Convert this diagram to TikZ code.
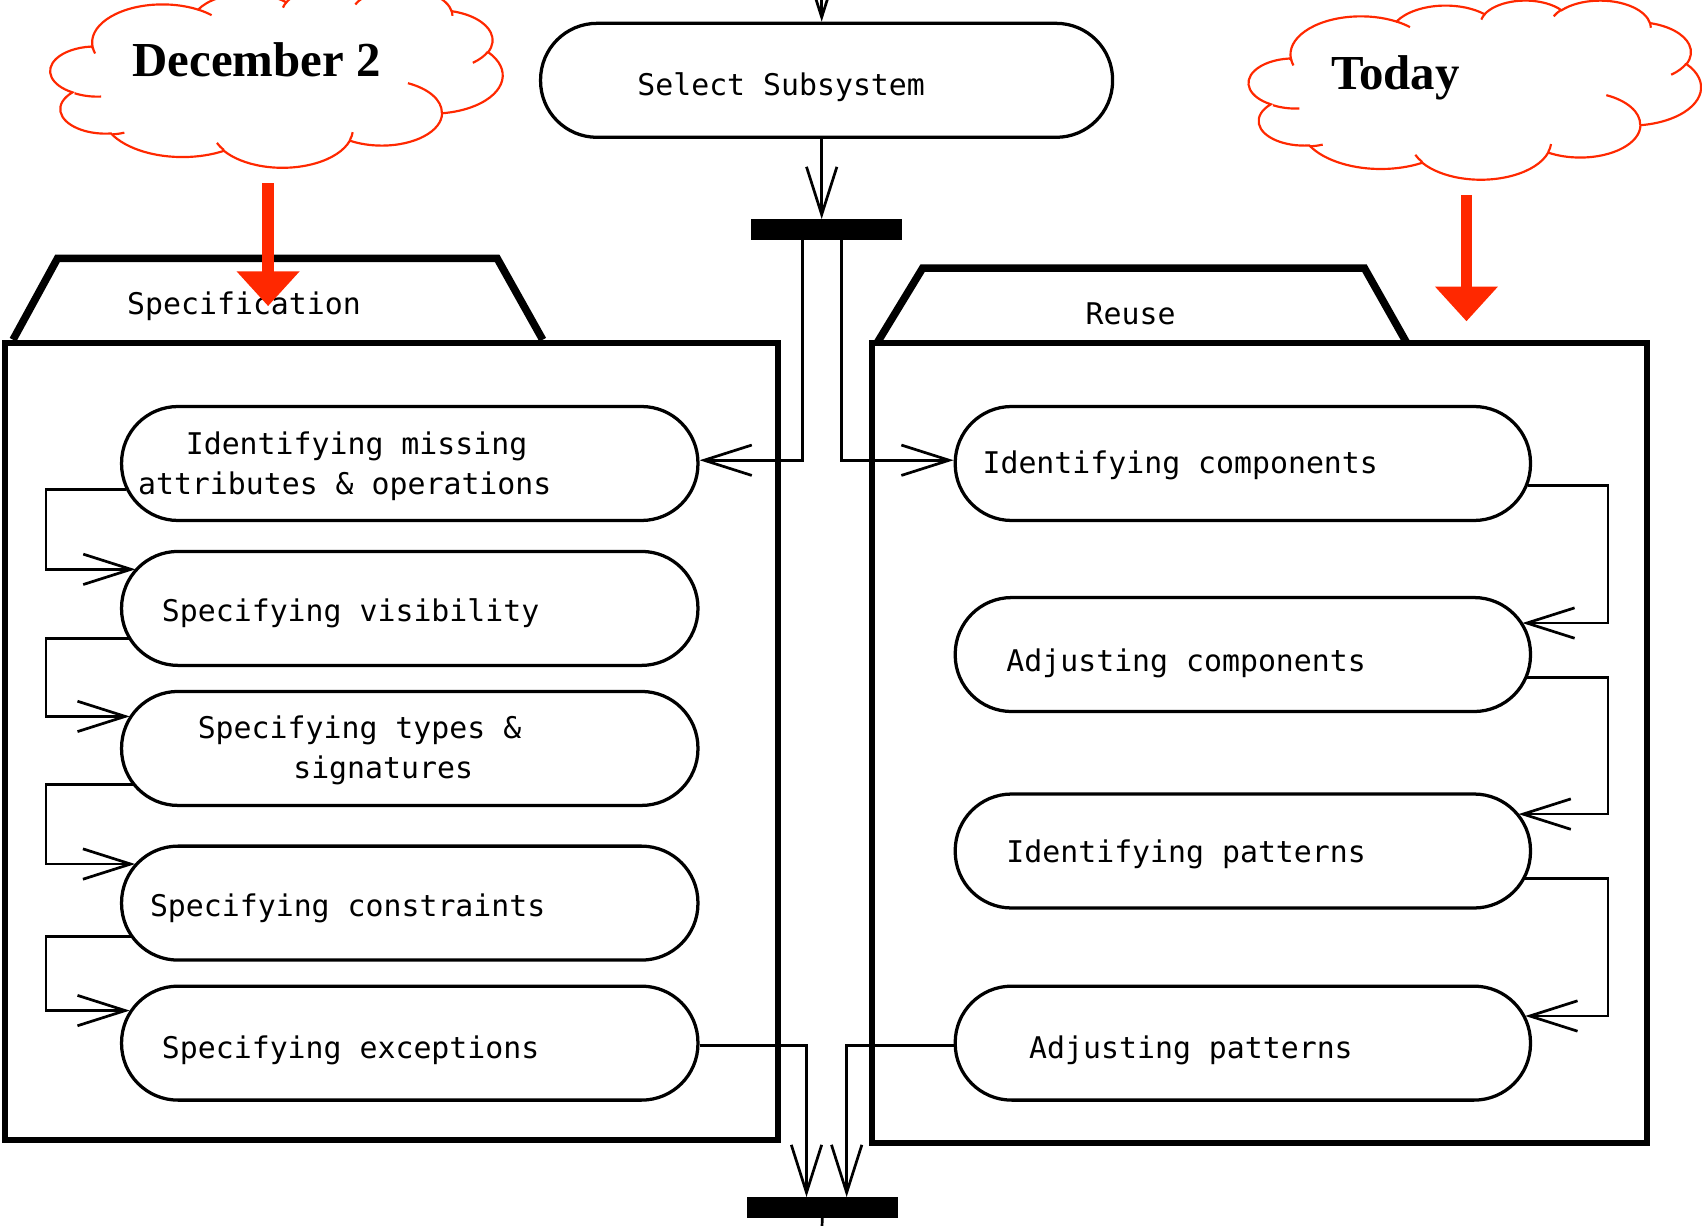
\documentclass[tikz,border=0pt]{standalone}
\usepackage{fontspec}
\setmainfont{Liberation Serif}
\setmonofont{DejaVu Sans Mono}
\usetikzlibrary{arrows.meta}
\definecolor{cloudred}{RGB}{255,40,0}
% elliptic arc given by radii, visual start angle and sweep (degrees)
\newcommand\puffarc[4]{arc[x radius=#1, y radius=#2,
  start angle={atan2(#1*sin(#3),#2*cos(#3))},
  delta angle={mod(atan2(#1*sin(#3+#4),#2*cos(#3+#4))-atan2(#1*sin(#3),#2*cos(#3))+720,360)}]}
% cloud outline in a 432 x 432 box, y pointing down
\newcommand\cloudoutline{%
  \draw[cloudline] (39.00,143.70)
    \puffarc{67.53}{91.90}{-190.4875}{123.7805}
    \puffarc{53.33}{72.67}{-144.1024}{89.9452}
    \puffarc{43.65}{59.45}{-145.8079}{99.7230}
    \puffarc{48.57}{65.95}{-130.9861}{117.2417}
    \puffarc{53.33}{72.73}{-78.7089}{109.0269}
    \puffarc{67.75}{92.20}{-46.2673}{130.2690}
    \puffarc{57.85}{78.67}{0.6250}{114.0333}
    \puffarc{67.52}{92.15}{22.4516}{115.1726}
    \puffarc{77.20}{105.43}{66.2426}{78.4419}
    \puffarc{43.60}{59.18}{-274.9421}{146.7352}
    \puffarc{43.45}{59.45}{-246.8285}{152.5195} -- cycle;
  \draw[cloudline]
    (46.93,261.77) \puffarc{43.45}{59.45}{86.7420}{26.4295}
    (69.28,348.99) \puffarc{43.60}{59.18}{73.6105}{11.4475}
    (164.78,390.90) \puffarc{67.52}{92.15}{137.6242}{14.0811}
    (288.27,347.51) \puffarc{67.52}{92.15}{6.4533}{15.9984}
    (341.29,229.54) \puffarc{57.85}{78.67}{-70.2924}{70.9174}
    (417.98,153.54) \puffarc{53.33}{72.73}{30.3180}{27.7515}
    (383.24,54.26) \puffarc{48.57}{65.95}{-13.7443}{14.8589}
    (290.78,39.52) \puffarc{48.57}{65.95}{-149.1815}{18.1954}
    (221.41,47.20) \puffarc{43.65}{59.45}{-163.4943}{17.6864}
    (140.00,51.92) \puffarc{67.53}{91.90}{-66.7070}{12.3194}
    (41.27,157.89) \puffarc{67.53}{91.90}{157.6544}{11.8582};}
\begin{document}
\begin{tikzpicture}[x=1pt,y=-1pt,
  act/.style={draw, line width=3pt, rounded corners=52pt, minimum width=531pt,
              minimum height=105pt, inner sep=0pt},
  lbl/.style={font=\ttfamily\fontsize{27.5}{37}\selectfont, inner sep=0pt,
              anchor=west, align=left},
  syncbar/.style={fill=black, minimum width=139pt, minimum height=19pt, inner sep=0pt},
  conn/.style={line width=2.5pt,
               -{Straight Barb[length=44pt,width=28pt,line width=2.5pt]}},
  plain/.style={line width=2.5pt},
  lane/.style={line width=5.5pt},
  tab/.style={line width=7pt},
  cloudline/.style={draw=cloudred, line width=2pt},
  notetext/.style={font=\bfseries\fontsize{45}{50}\selectfont, inner sep=0pt},
  redarrow/.style={draw=cloudred, line width=11pt,
                   -{Triangle[length=32pt,width=56pt]}, fill=cloudred}
]
\useasboundingbox (0,0) rectangle (1568,1129.4);

% swimlanes
\draw[lane] (5,316) rectangle (717,1050);
\draw[tab] (12,313) -- (53,238) -- (458,238) -- (500,313);
\node[lbl] (specname) at (117,282) {Specification};

\draw[lane] (803,316) rectangle (1517,1053);
\draw[tab] (808,316) -- (850,247) -- (1257,247) -- (1296,316);
\node[lbl] (reusename) at (1000,289) {Reuse};

% top activity and fork
\node[act, minimum width=527pt] (S) at (761.5,74) {};
\node[lbl] (St) at (587,80) {Select Subsystem};
\node[syncbar] (F1) at (761.5,211.5) {};
\coordinate (in) at (757,-20);

% specification activities
\node[act] (L1) at (377.5,427) {};
\node[act] (L2) at (377.5,560.5) {};
\node[act] (L3) at (377.5,689.5) {};
\node[act] (L4) at (377.5,832) {};
\node[act] (L5) at (377.5,961) {};
\node[lbl] (L1t) at (127,429.5) {\hspace*{44pt}Identifying missing\\attributes \& operations};
\node[lbl] (L2t) at (149,565) {Specifying visibility};
\node[lbl] (L3t) at (182,691.5) {Specifying types \&\\\hspace*{88pt}signatures};
\node[lbl] (L4t) at (138,837) {Specifying constraints};
\node[lbl] (L5t) at (149,968) {Specifying exceptions};

% reuse activities
\node[act, minimum width=530pt] (R1) at (1145,427) {};
\node[act, minimum width=530pt] (R2) at (1145,603) {};
\node[act, minimum width=530pt] (R3) at (1145,784) {};
\node[act, minimum width=530pt] (R4) at (1145,961) {};
\node[lbl] (R1t) at (905,429) {Identifying components};
\node[lbl] (R2t) at (927,611) {Adjusting components};
\node[lbl] (R3t) at (927,787) {Identifying patterns};
\node[lbl] (R4t) at (948,968) {Adjusting patterns};

% join
\node[syncbar] (J) at (757.5,1112.5) {};
\coordinate (out) at (757,1145);

% flow
\draw[conn] (in) -- ([xshift=-4.5pt]S.north);
\draw[conn] ([xshift=-4.5pt]S.south) -- ([xshift=-4.5pt]F1.north);
\draw[conn] ([xshift=-22.5pt]F1.south) |- ([yshift=3pt]L1.east);
\draw[conn] ([xshift=13.5pt]F1.south) |- ([yshift=3pt]R1.west);

\draw[conn] ([xshift=5.8pt,yshift=-24pt]L1.west) -- ++(-73.8,0) |- ([xshift=14.3pt,yshift=36pt]L2.west);
\draw[conn] ([xshift=8pt,yshift=-28pt]L2.west) -- ++(-76,0) |- ([xshift=9pt,yshift=29.5pt]L3.west);
\draw[conn] ([xshift=12pt,yshift=-33.5pt]L3.west) -- ++(-80,0) |- ([xshift=14pt,yshift=36pt]L4.west);
\draw[conn] ([xshift=10pt,yshift=-31pt]L4.west) -- ++(-78,0) |- ([xshift=9pt,yshift=30pt]L5.west);

\draw[conn] ([xshift=-4pt,yshift=-20pt]R1.east) -- ++(74,0) |- ([xshift=-9pt,yshift=29pt]R2.east);
\draw[conn] ([xshift=-4.4pt,yshift=-21pt]R2.east) -- ++(74.4,0) |- ([xshift=-12.5pt,yshift=34pt]R3.east);
\draw[conn] ([xshift=-6.3pt,yshift=-25pt]R3.east) -- ++(76.3,0) |- ([xshift=-6.3pt,yshift=25pt]R4.east);

\draw[conn] ([yshift=-2pt]L5.east) -| ([xshift=-14.5pt]J.north);
\draw[conn] ([yshift=-2pt]R4.west) -| ([xshift=22.5pt]J.north);
\draw[plain] (J.south) -- (out);

% date notes
\begin{scope}[shift={(48,-11)}, x=0.9606pt, y=-0.3819pt]
  \cloudoutline
\end{scope}
\node[notetext, anchor=west] (c1t) at (122,55) {December 2};
\begin{scope}[shift={(1152,0)}, x=0.9606pt, y=-0.3819pt]
  \cloudoutline
\end{scope}
\node[notetext, anchor=base west] (c2t) at (1226,82) {Today};

\coordinate (a1s) at (247,169);
\coordinate (a1e) at (247,282);
\coordinate (a2s) at (1351,180);
\coordinate (a2e) at (1351,296);
\draw[redarrow] (a1s) -- (a1e);
\draw[redarrow] (a2s) -- (a2e);
\end{tikzpicture}
\end{document}
